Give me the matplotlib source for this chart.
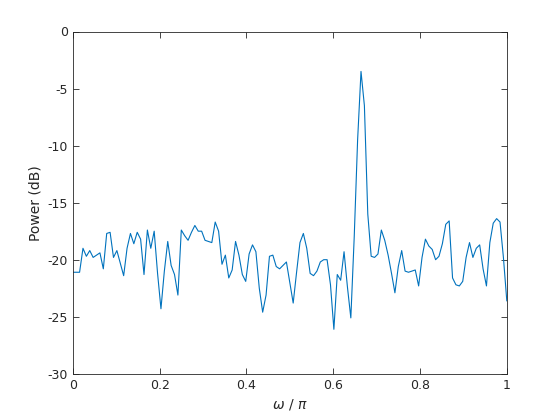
import numpy as np
import matplotlib
matplotlib.use('Agg')
import matplotlib.pyplot as plt

# periodogram, 129 bins from 0 to pi
power_db = [
    -21.1, -21.1, -21.1, -19.0, -19.7, -19.2, -19.8, -19.6, -19.4, -20.8,
    -17.7, -17.6, -19.8, -19.2, -20.3, -21.4, -19.0, -17.7, -18.6, -17.6,
    -18.2, -21.3, -17.4, -19.0, -17.5, -21.2, -24.3, -21.0, -18.4, -20.5,
    -21.3, -23.1, -17.4, -17.9, -18.3, -17.6, -17.0, -17.5, -17.5, -18.3,
    -18.4, -18.5, -16.7, -17.5, -20.4, -19.6, -21.6, -20.9, -18.4, -19.6,
    -21.3, -21.9, -19.5, -18.7, -19.3, -22.5, -24.6, -23.1, -19.7, -19.6,
    -20.6, -20.8, -20.5, -20.2, -22.0, -23.8, -21.1, -18.5, -17.7, -19.0,
    -21.2, -21.4, -21.0, -20.2, -20.0, -20.0, -22.2, -26.1, -21.3, -21.8,
    -19.3, -22.4, -25.1, -18.0, -9.5, -3.5, -6.5, -16.0, -19.7, -19.8,
    -19.5, -17.4, -18.3, -19.6, -21.2, -22.9, -20.6, -19.2, -21.0, -21.1,
    -21.0, -20.9, -22.3, -19.8, -18.2, -18.8, -19.1, -20.0, -19.7, -18.6,
    -16.9, -16.6, -21.6, -22.2, -22.3, -21.9, -19.8, -18.5, -19.8, -19.0,
    -18.7, -20.8, -22.3, -18.5, -16.8, -16.4, -16.7, -19.8, -23.6,
]
omega = np.linspace(0, 1, len(power_db))

xticks = [0, 0.2, 0.4, 0.6, 0.8, 1]
yticks = [-30, -25, -20, -15, -10, -5, 0]

fig = plt.figure(figsize=(5.6, 4.2), dpi=100)
ax = fig.add_axes([0.13, 0.11, 0.775, 0.815])
ax.plot(omega, power_db, color='#0072BD', linewidth=0.8)

ax.set_xlim(0, 1)
ax.set_ylim(-30, 0)
ax.set_xticks(xticks)
ax.set_xticklabels(['0', '0.2', '0.4', '0.6', '0.8', '1'])
ax.set_yticks(yticks)
ax.set_yticklabels([str(t) for t in yticks])

ax.set_xlabel(r'$\omega$ / $\pi$', fontsize=10, color='#262626')
ax.set_ylabel('Power (dB)', fontsize=10, color='#262626')

ax.tick_params(direction='in', top=True, right=True, length=4, width=0.6,
               colors='#262626', labelsize=9)
for s in ax.spines.values():
    s.set_color('#262626')
    s.set_linewidth(0.6)

fig.savefig('out.png', dpi=100)
